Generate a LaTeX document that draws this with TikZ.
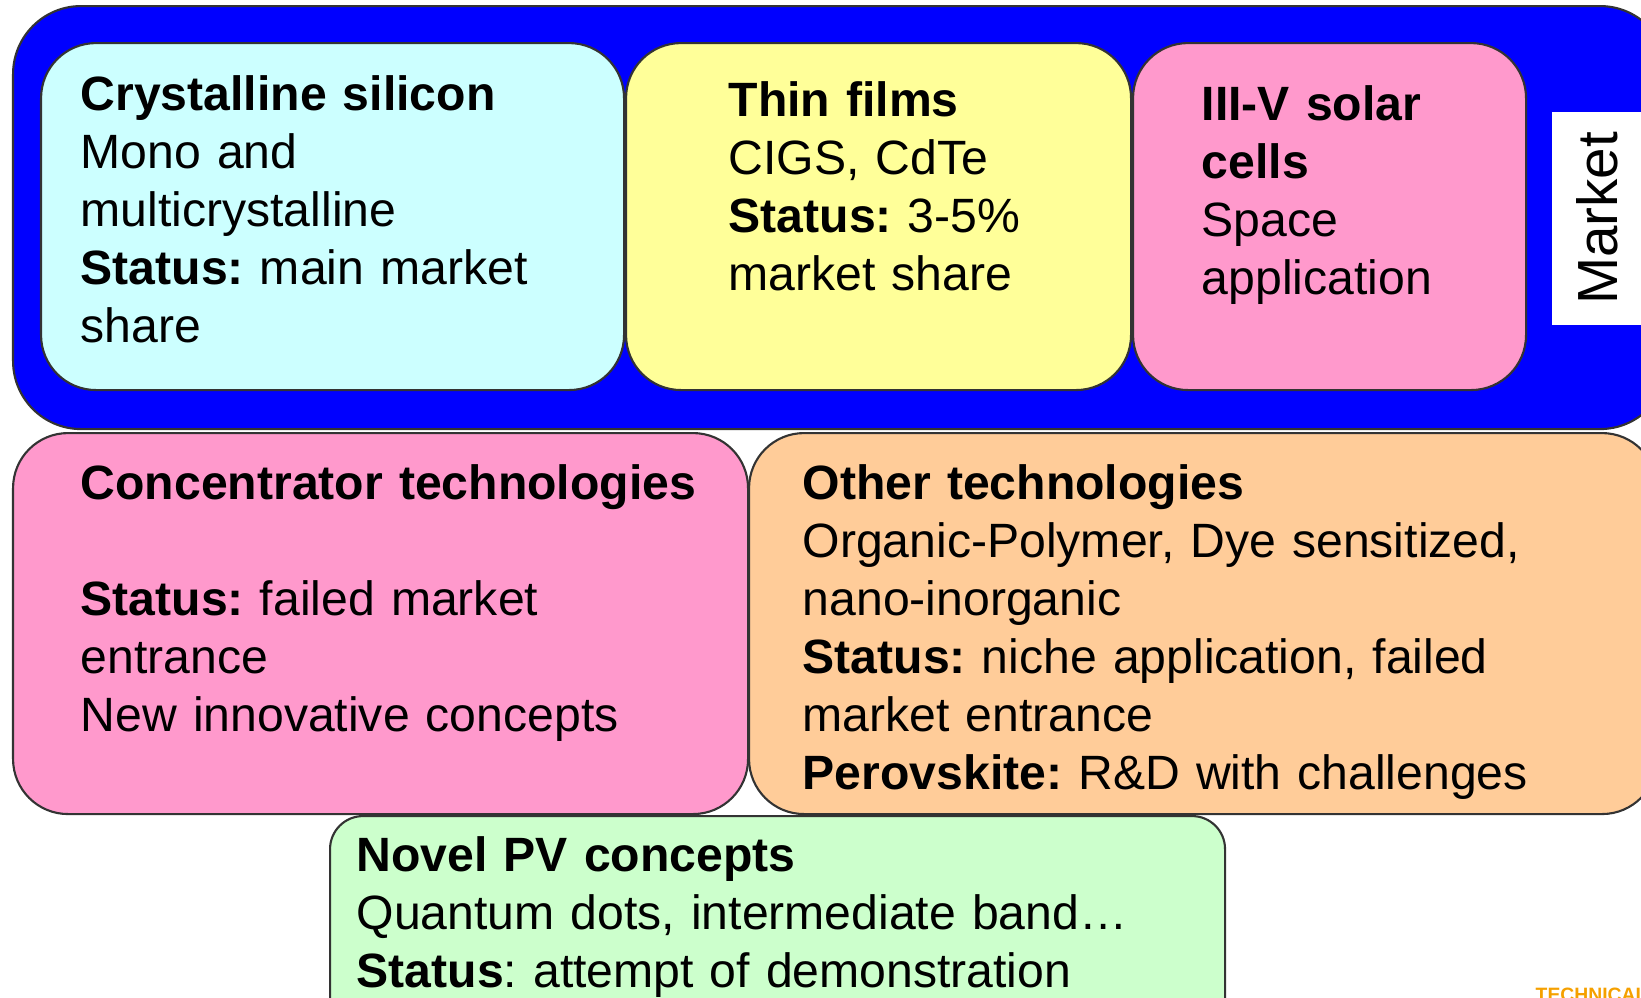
\documentclass[tikz,border=0pt]{standalone}
\usepackage{fontspec}
\setmainfont{Liberation Sans}
\frenchspacing
\definecolor{marketblue}{HTML}{0000FF}
\definecolor{siliconcyan}{HTML}{CCFFFF}
\definecolor{filmyellow}{HTML}{FFFF99}
\definecolor{cellpink}{HTML}{FF99CC}
\definecolor{otherorange}{HTML}{FFCC99}
\definecolor{novelgreen}{HTML}{CCFFCC}
\definecolor{logoorange}{HTML}{F5A000}

\begin{document}
\begin{tikzpicture}[
    panel/.style={draw=black!80, line width=0.6pt, rounded corners=#1, anchor=north west, inner sep=0pt},
    panel/.default=0.55cm,
    blurb/.style={anchor=base west, inner sep=0pt, text width=8.6cm, align=left,
      font=\fontsize{13.7pt}{16.55pt}\selectfont},
  ]
    % PV technology families, the ones on the market framed in blue
    \clip (0,0) rectangle (16.41,-9.98);
    \node[panel=0.68cm, fill=marketblue, minimum width=16.55cm, minimum height=4.23cm] (market) at (0.12,-0.05) {};
    \node[panel, fill=siliconcyan, minimum width=5.83cm, minimum height=3.47cm] (csi) at (0.40,-0.42) {};
    \node[panel, fill=filmyellow, minimum width=5.05cm, minimum height=3.47cm] (thin) at (6.25,-0.42) {};
    \node[panel, fill=cellpink, minimum width=3.93cm, minimum height=3.47cm] (threefive) at (11.32,-0.42) {};
    \node[fill=white, rotate=90, inner sep=0pt, minimum width=2.13cm, minimum height=0.90cm,
      font=\fontsize{16.1pt}{19pt}\selectfont] (marketlbl) at (15.97,-2.185) {Market};

    \node[panel, fill=cellpink, minimum width=7.35cm, minimum height=3.81cm] (conc) at (0.12,-4.32) {};
    \node[panel, fill=otherorange, minimum width=9.08cm, minimum height=3.81cm] (other) at (7.48,-4.32) {};
    \node[panel=0.33cm, fill=novelgreen, minimum width=8.95cm, minimum height=2.30cm] (novel) at (3.29,-8.15) {};

    % texts
    \node[blurb] (csitxt) at (0.80,-1.10) {\textbf{Crystalline silicon}\\ Mono and\\ multicrystalline\\
      \textbf{Status:} main market\\ share};
    \node[blurb] (thintxt) at (7.28,-1.16) {\textbf{Thin films}\\ CIGS, CdTe\\ \textbf{Status:} 3-5\%\\ market share};
    \node[blurb] (tftxt) at (12.01,-1.20) {\textbf{III-V solar}\\ \textbf{cells}\\ Space\\ application};
    \node[blurb] (conctxt) at (0.80,-4.99) {\textbf{Concentrator technologies}\\[16.55pt]
      \textbf{Status:} failed market\\ entrance\\ New innovative concepts};
    \node[blurb, text width=9cm] (othertxt) at (8.02,-4.99) {\textbf{Other technologies}\\
      Organic-Polymer, Dye sensitized,\\ nano-inorganic\\ \textbf{Status:} niche application, failed\\
      market entrance\\ \textbf{Perovskite:} R\&D with challenges};
    \node[blurb] (noveltxt) at (3.56,-8.71) {\textbf{Novel PV concepts}\\ Quantum dots, intermediate band…\\
      \textbf{Status}: attempt of demonstration};

    \node[anchor=north west, inner sep=0pt, text=logoorange, font=\bfseries\fontsize{5.5pt}{6pt}\selectfont] (logo)
      at (15.35,-9.87) {TECHNICAL};
\end{tikzpicture}
\end{document}
